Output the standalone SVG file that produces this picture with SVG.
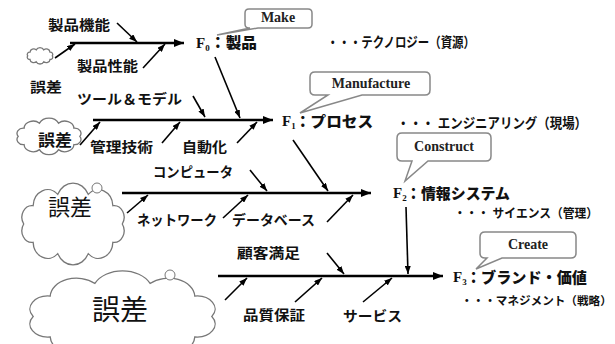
<svg xmlns="http://www.w3.org/2000/svg" width="615" height="344" viewBox="0 0 615 344">
<style>
.jp{font-family:"Liberation Sans","Noto Sans CJK JP",sans-serif;font-size:14px;font-weight:700;fill:#111}
.big{font-weight:900}
.reg{font-weight:400}
.f{font-family:"Liberation Serif","Noto Sans CJK JP",serif;font-size:15px;font-weight:700;fill:#111}
.sub{font-size:9px}
.en{font-family:"Liberation Serif",serif;font-size:14px;font-weight:700;fill:#222;text-anchor:middle}
.spine{stroke:#000;stroke-width:2.4;fill:none}
.br{stroke:#000;stroke-width:1.6;fill:none}
.cloud{fill:#fff;stroke:#777;stroke-width:1.3}
.call{fill:#fff;stroke:#888;stroke-width:1.5}
</style>
<defs>
<marker id="ab" markerWidth="10" markerHeight="8" refX="10" refY="4" orient="auto" markerUnits="userSpaceOnUse"><path d="M0,0 L10,4 L0,8 Z" fill="#000"/></marker>
<marker id="as" markerWidth="8" markerHeight="6" refX="8" refY="3" orient="auto" markerUnits="userSpaceOnUse"><path d="M0,0 L8,3 L0,6 Z" fill="#000"/></marker>
<path id="cl" d="M94,30 A9,9 0 0 1 85.6,44.1 A13,13 0 0 1 63.6,52.8 A15,15 0 0 1 36.4,52.8 A13,13 0 0 1 14.4,44.1 A9,9 0 0 1 6,30 A9,9 0 0 1 14.4,15.9 A13,13 0 0 1 36.4,7.2 A15,15 0 0 1 63.6,7.2 A13,13 0 0 1 85.6,15.9 A9,9 0 0 1 94,30 Z" vector-effect="non-scaling-stroke"/>
</defs>
<rect width="615" height="344" fill="#fff"/>

<g id="clouds">
<use href="#cl" class="cloud" transform="translate(26,48) scale(0.28,0.26)"/>
<use href="#cl" class="cloud" transform="translate(14,119) scale(0.7,0.58)"/>
<use href="#cl" class="cloud" transform="translate(17,185) scale(1.12,1.3)"/>
<circle cx="97" cy="188" r="5" fill="#fff" stroke="#777" stroke-width="1"/>
<use href="#cl" class="cloud" transform="translate(21,273) scale(2.03,1.45)"/>
<circle cx="170" cy="275" r="5" fill="#fff" stroke="#777" stroke-width="1"/>
</g>

<g id="connectors">
<path class="spine" d="M70,43 H184" marker-end="url(#ab)"/>
<path class="spine" d="M93,120 H273" marker-end="url(#ab)"/>
<path class="spine" d="M122,193 H371" marker-end="url(#ab)"/>
<path class="spine" d="M218,276 H443" marker-end="url(#ab)"/>
<path class="br" d="M117,23 L137,42" marker-end="url(#as)"/>
<path class="br" d="M143,68 L165,44" marker-end="url(#as)"/>
<path class="br" d="M55,58 L75,44" marker-end="url(#as)"/>
<path class="br" d="M215,57 L240,118" marker-end="url(#as)"/>
<path class="br" d="M193,96 L205,117" marker-end="url(#as)"/>
<path class="br" d="M80,145 L100,122" marker-end="url(#as)"/>
<path class="br" d="M162,143 L180,122" marker-end="url(#as)"/>
<path class="br" d="M237,143 L257,122" marker-end="url(#as)"/>
<path class="br" d="M250,170 L267,191" marker-end="url(#as)"/>
<path class="br" d="M293,140 L328,191" marker-end="url(#as)"/>
<path class="br" d="M127,213 L148,195" marker-end="url(#as)"/>
<path class="br" d="M223,218 L248,195" marker-end="url(#as)"/>
<path class="br" d="M327,222 L353,195" marker-end="url(#as)"/>
<path class="br" d="M406,207 L408,274" marker-end="url(#as)"/>
<path class="br" d="M327,253 L344,274" marker-end="url(#as)"/>
<path class="br" d="M225,300 L247,278" marker-end="url(#as)"/>
<path class="br" d="M295,302 L322,278" marker-end="url(#as)"/>
<path class="br" d="M363,302 L392,278" marker-end="url(#as)"/>
</g>

<g id="labels">
<text class="jp" x="48" y="30" textLength="62" lengthAdjust="spacingAndGlyphs">製品機能</text>
<text class="jp" x="77" y="71" textLength="61" lengthAdjust="spacingAndGlyphs">製品性能</text>
<text class="jp" x="30" y="92" textLength="32" lengthAdjust="spacingAndGlyphs">誤差</text>
<text class="jp" x="77" y="104" textLength="105" lengthAdjust="spacingAndGlyphs">ツール＆モデル</text>
<text class="jp" x="38" y="146" textLength="34" lengthAdjust="spacingAndGlyphs" style="font-size:16px">誤差</text>
<text class="jp" x="90" y="152" textLength="63" lengthAdjust="spacingAndGlyphs">管理技術</text>
<text class="jp" x="182" y="152" textLength="45" lengthAdjust="spacingAndGlyphs">自動化</text>
<text class="jp" x="153" y="177" textLength="80" lengthAdjust="spacingAndGlyphs">コンピュータ</text>
<text class="jp" x="137" y="225" textLength="80" lengthAdjust="spacingAndGlyphs">ネットワーク</text>
<text class="jp" x="232" y="225" textLength="83" lengthAdjust="spacingAndGlyphs">データベース</text>
<text class="jp reg" x="48" y="215" textLength="44" lengthAdjust="spacingAndGlyphs" style="font-size:22px">誤差</text>
<text class="jp" x="237" y="258" textLength="63" lengthAdjust="spacingAndGlyphs">顧客満足</text>
<text class="jp" x="243" y="320" textLength="62" lengthAdjust="spacingAndGlyphs">品質保証</text>
<text class="jp" x="343" y="321" textLength="59" lengthAdjust="spacingAndGlyphs">サービス</text>
<text class="jp reg" x="92" y="320" textLength="56" lengthAdjust="spacingAndGlyphs" style="font-size:28px">誤差</text>
</g>

<g id="F0">
<text class="f" x="196" y="48">F<tspan class="sub" dy="3">0</tspan></text>
<text class="jp big" x="210" y="48" textLength="47" lengthAdjust="spacingAndGlyphs" style="font-size:15px">：製品</text>
<text class="jp" x="327" y="47" textLength="148" lengthAdjust="spacingAndGlyphs">・・・テクノロジー（資源）</text>
</g>
<g id="F1">
<text class="f" x="282" y="126">F<tspan class="sub" dy="3">1</tspan></text>
<text class="jp big" x="295" y="127" textLength="78" lengthAdjust="spacingAndGlyphs" style="font-size:15px">：プロセス</text>
<text class="jp" x="397" y="128" textLength="190" lengthAdjust="spacingAndGlyphs">・・・ エンジニアリング（現場）</text>
</g>
<g id="F2">
<text class="f" x="393" y="198">F<tspan class="sub" dy="3">2</tspan></text>
<text class="jp big" x="406" y="199" textLength="104" lengthAdjust="spacingAndGlyphs" style="font-size:15px">：情報システム</text>
<text class="jp" x="454" y="218" textLength="144" lengthAdjust="spacingAndGlyphs" style="font-size:12.5px">・・・ サイエンス（管理）</text>
</g>
<g id="F3">
<text class="f" x="453" y="282">F<tspan class="sub" dy="3">3</tspan></text>
<text class="jp big" x="466" y="283" textLength="121" lengthAdjust="spacingAndGlyphs" style="font-size:15px">：ブランド・価値</text>
<text class="jp" x="461" y="305" style="font-size:11.6px">・・・マネジメント（戦略）</text>
</g>

<g id="callout-make">
<path class="call" d="M249,9 H308 Q312,9 312,13 V24 Q312,28 308,28 H258 L217,35 L250,28 H249 Q245,28 245,24 V13 Q245,9 249,9 Z"/>
<text class="en" x="278" y="22">Make</text>
</g>
<g id="callout-manufacture">
<path class="call" d="M315,72 H425 Q430,72 430,77 V90 Q430,95 425,95 H362 L300,113 L328,95 H315 Q310,95 310,90 V77 Q310,72 315,72 Z"/>
<text class="en" x="371" y="88">Manufacture</text>
</g>
<g id="callout-construct">
<path class="call" d="M402,133 H486 Q491,133 491,138 V156 Q491,161 486,161 H428 L405,181 L412,161 H402 Q397,161 397,156 V138 Q397,133 402,133 Z"/>
<text class="en" x="444" y="151">Construct</text>
</g>
<g id="callout-create">
<path class="call" d="M485,232 H571 Q576,232 576,237 V253 Q576,258 571,258 H502 L476,269 L487,258 H485 Q480,258 480,253 V237 Q480,232 485,232 Z"/>
<text class="en" x="528" y="249">Create</text>
</g>
</svg>
